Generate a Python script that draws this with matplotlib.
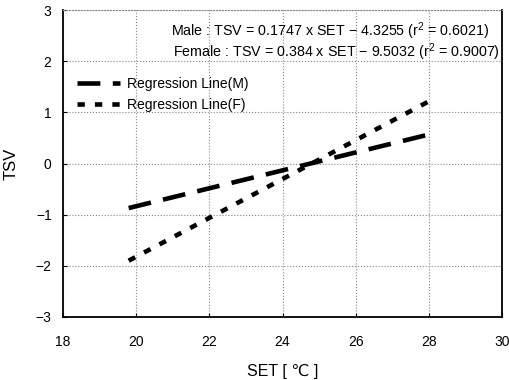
import matplotlib.pyplot as plt
from matplotlib.lines import Line2D

plt.rcParams['font.family'] = ['Liberation Sans', 'DejaVu Sans']
plt.rcParams['mathtext.fontset'] = 'custom'
plt.rcParams['mathtext.rm'] = 'Liberation Sans'

# regression line end points
set_range = [19.8, 28.0]
tsv_male = [-0.87, 0.57]
tsv_female = [-1.90, 1.22]

labels = ["Regression Line(M)", "Regression Line(F)"]
eq_male = "Male : TSV = 0.1747 x SET \u2212 4.3255 (r$^2$ = 0.6021)"
eq_female = "Female : TSV = 0.384 x SET \u2212 9.5032 (r$^2$ = 0.9007)"

x_ticks = [18, 20, 22, 24, 26, 28, 30]
y_ticks = [-3, -2, -1, 0, 1, 2, 3]

male_dash = (5.0, 2.7)
female_dash = (1.6, 2.2)

fig, ax = plt.subplots(figsize=(5.1, 3.8), dpi=100)
fig.subplots_adjust(left=0.123, right=0.985, top=0.973, bottom=0.166)

ax.plot(set_range, tsv_male, color="black", lw=3.3,
        dashes=male_dash, dash_capstyle="butt")
ax.plot(set_range, tsv_female, color="black", lw=3.3,
        dashes=female_dash, dash_capstyle="butt")

ax.set_xlim(18, 30)
ax.set_ylim(-3, 3)
ax.set_xticks(x_ticks)
ax.set_yticks(y_ticks)
ax.tick_params(direction="in", length=3, labelsize=10)
ax.tick_params(axis="x", pad=13)
ax.tick_params(axis="y", pad=8)
ax.grid(True, color="#888888", linestyle=":", linewidth=0.8)

for side in ["left", "bottom", "right"]:
    ax.spines[side].set_linewidth(1.3)
ax.spines["top"].set_color("#888888")
ax.spines["top"].set_linestyle(":")

ax.set_xlabel("SET [ \u2103 ]", fontsize=11.5, labelpad=11)
ax.set_ylabel("TSV", fontsize=12, labelpad=12)

ax.text(0.97, 0.932, eq_male, transform=ax.transAxes, ha="right", va="center",
        fontsize=10.3)
ax.text(0.995, 0.862, eq_female, transform=ax.transAxes, ha="right", va="center",
        fontsize=10.3)

handles = [
    Line2D([], [], color="black", lw=3.3, dashes=male_dash, dash_capstyle="butt"),
    Line2D([], [], color="black", lw=3.3, dashes=female_dash, dash_capstyle="butt"),
]
ax.legend(handles, labels, loc="upper left", bbox_to_anchor=(0.005, 0.823),
          frameon=False, fontsize=10, handlelength=3.1,
          handletextpad=0.45, labelspacing=0.5)

fig.savefig("out.png", dpi=100)
